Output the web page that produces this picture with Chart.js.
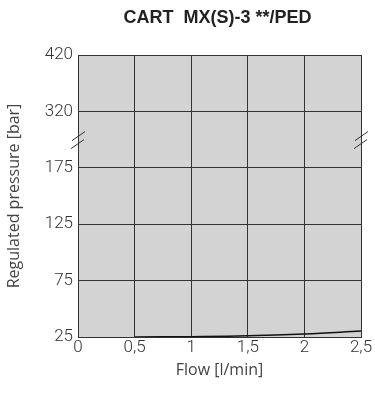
<!DOCTYPE html>
<html>
<head>
<meta charset="utf-8">
<script src="https://cdn.jsdelivr.net/npm/chart.js@4/dist/chart.umd.min.js"></script>
<style>
  html, body { margin: 0; padding: 0; background: #fff; }
  #wrap { width: 375px; height: 394px; }
</style>
</head>
<body>
<div id="wrap"><canvas id="pressureChart" width="375" height="394"></canvas></div>
<script>
const chartTitle = 'CART  MX(S)-3 **/PED';
const xTickLabels = ['0', '0,5', '1', '1,5', '2', '2,5'];
const yTickLabels = ['25', '75', '125', '175', '320', '420'];
const flow = [0.5, 1, 1.5, 2, 2.5];
const pressure = [25, 25.3, 26, 27.7, 30.3];

const tickFont = { family: '"Roboto", sans-serif', size: 17, weight: '300' };

// pressure axis is broken between 175 and 320, so map values onto equal steps
function pressureToStep(p) {
  if (p <= 175) return (p - 25) / 50;
  if (p <= 320) return 3 + (p - 175) / 145;
  return 4 + (p - 320) / 100;
}

const curvePoints = flow.map((f, i) => ({ x: f, y: pressureToStep(pressure[i]) }));

const plotBackground = {
  id: 'plotBackground',
  beforeDraw(chart) {
    const { ctx, chartArea: a } = chart;
    ctx.save();
    ctx.fillStyle = '#d3d3d3';
    ctx.fillRect(a.left, a.top, a.right - a.left, a.bottom - a.top);
    ctx.restore();
  }
};

const extras = {
  id: 'extras',
  afterDraw(chart) {
    const { ctx, chartArea: a } = chart;
    ctx.save();
    // title
    ctx.fillStyle = '#222';
    ctx.font = 'bold 18px "Liberation Sans", Arial, sans-serif';
    ctx.textAlign = 'center';
    ctx.textBaseline = 'middle';
    ctx.fillText(chartTitle, (a.left + a.right) / 2 - 2, 18);
    // axis break marks
    const yb = chart.scales.y.getPixelForValue(3.5);
    ctx.strokeStyle = '#333';
    ctx.lineWidth = 1;
    [a.left, a.right].forEach(xc => {
      ctx.beginPath();
      ctx.moveTo(xc - 6, yb + 1);
      ctx.lineTo(xc + 7, yb - 8);
      ctx.moveTo(xc - 7, yb + 9);
      ctx.lineTo(xc + 6, yb);
      ctx.stroke();
    });
    ctx.restore();
  }
};

new Chart(document.getElementById('pressureChart'), {
  type: 'line',
  data: {
    datasets: [{
      data: curvePoints,
      borderColor: '#111',
      borderWidth: 1.5,
      pointRadius: 0,
      tension: 0.4,
      fill: false
    }]
  },
  options: {
    responsive: false,
    animation: false,
    layout: { padding: { top: 55, right: 14, left: 0, bottom: 14 } },
    plugins: { legend: { display: false }, tooltip: { enabled: false } },
    scales: {
      x: {
        type: 'linear',
        min: 0,
        max: 2.5,
        ticks: {
          stepSize: 0.5,
          color: '#333',
          font: tickFont,
          padding: 1,
          maxRotation: 0,
          callback: (v, i) => xTickLabels[i]
        },
        grid: { color: '#333', lineWidth: 1, drawTicks: false },
        border: { color: '#333', width: 1 },
        title: {
          display: true,
          text: 'Flow [l/min]',
          color: '#444',
          font: { family: '"Open Sans", sans-serif', size: 16 },
          padding: { top: 0, bottom: 0 }
        },
        afterFit(scale) { scale.height = 43; }
      },
      y: {
        type: 'linear',
        min: 0,
        max: 5,
        ticks: {
          stepSize: 1,
          color: '#333',
          font: tickFont,
          padding: 5,
          callback: (v, i) => yTickLabels[i]
        },
        grid: { color: '#333', lineWidth: 1, drawTicks: false },
        border: { color: '#333', width: 1 },
        title: {
          display: true,
          text: 'Regulated pressure [bar]',
          color: '#444',
          font: { family: '"Open Sans", sans-serif', size: 16 },
          padding: { top: 5, bottom: 4 }
        },
        afterFit(scale) { scale.width = 78; }
      }
    }
  },
  plugins: [plotBackground, extras]
});
</script>
</body>
</html>
